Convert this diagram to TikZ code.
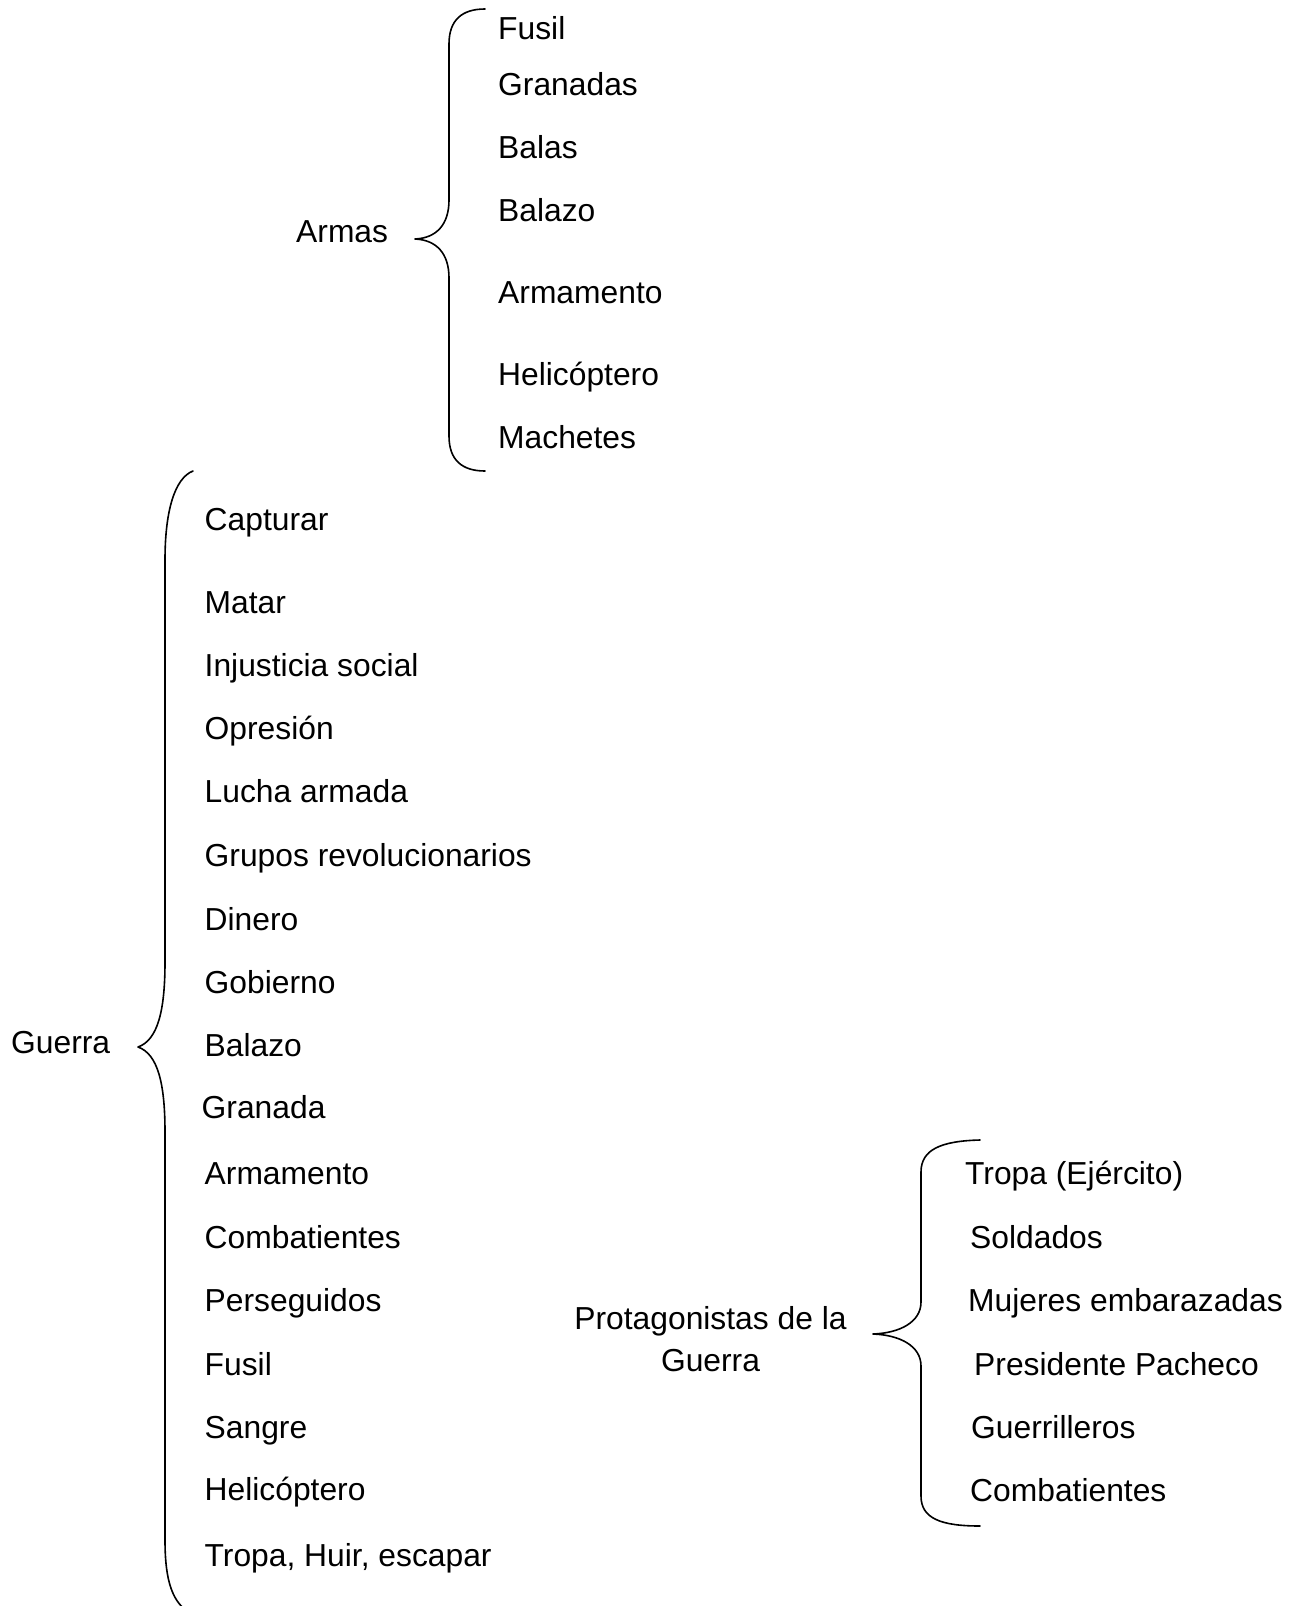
\documentclass[tikz,border=0pt]{standalone}
\usepackage{fontspec}
\setmainfont{Liberation Sans}
\begin{document}
\begin{tikzpicture}[x=1pt,y=-1pt,
  lbl/.style={anchor=base west,inner sep=0pt,font=\fontsize{31.8}{38}\selectfont},
  clbl/.style={anchor=base,inner sep=0pt,font=\fontsize{31.8}{38}\selectfont},
  brc/.style={line width=1.6pt,line join=round,line cap=round}]
\useasboundingbox (0,0) rectangle (1293,1606);
\clip (0,0) rectangle (1293,1606);

% ---------- Armas ----------
\node[lbl] (armas) at (296,242) {Armas};
\draw[brc] (485,9) .. controls (462,9) and (449,20) .. (449,44)
  -- (449,200) .. controls (449,224) and (437,238) .. (415,239)
  .. controls (437,240) and (449,254) .. (449,278)
  -- (449,436) .. controls (449,460) and (462,471) .. (485,471);
\node[lbl] (a1) at (498,39) {Fusil};
\node[lbl] (a2) at (498,95) {Granadas};
\node[lbl] (a3) at (498,158) {Balas};
\node[lbl] (a4) at (498,221) {Balazo};
\node[lbl] (a5) at (498,303) {Armamento};
\node[lbl] (a6) at (498,385.5) {Helicóptero};
\node[lbl] (a7) at (498,448) {Machetes};

% ---------- Guerra ----------
\node[lbl] (guerra) at (11,1053.5) {Guerra};
\draw[brc] (193,471) .. controls (175,478) and (165,510) .. (165,560)
  -- (165,962) .. controls (165,1010) and (158,1040) .. (138,1047)
  .. controls (158,1054) and (165,1084) .. (165,1132)
  -- (165,1540) .. controls (165,1580) and (172,1604) .. (192,1614);
\node[lbl] (g1) at (204.5,530) {Capturar};
\node[lbl] (g2) at (204.5,613) {Matar};
\node[lbl] (g3) at (204.5,676.5) {Injusticia social};
\node[lbl] (g4) at (204.5,739) {Opresión};
\node[lbl] (g5) at (204.5,802.5) {Lucha armada};
\node[lbl] (g6) at (204.5,866.5) {Grupos revolucionarios};
\node[lbl] (g7) at (204.5,930) {Dinero};
\node[lbl] (g8) at (204.5,993.5) {Gobierno};
\node[lbl] (g9) at (204.5,1056.5) {Balazo};
\node[lbl] (g10) at (201.5,1118.5) {Granada};
\node[lbl] (g11) at (204.5,1184) {Armamento};
\node[lbl] (g12) at (204.5,1248) {Combatientes};
\node[lbl] (g13) at (204.5,1311) {Perseguidos};
\node[lbl] (g14) at (204.5,1375) {Fusil};
\node[lbl] (g15) at (204.5,1438) {Sangre};
\node[lbl] (g16) at (204.5,1500.5) {Helicóptero};
\node[lbl] (g17) at (204.5,1566) {Tropa, Huir, escapar};

% ---------- Protagonistas ----------
\node[clbl] (p1) at (710.5,1329) {Protagonistas de la};
\node[clbl] (p2) at (710.5,1371) {Guerra};
\draw[brc] (980,1140) .. controls (940,1141) and (921,1150) .. (921,1172)
  -- (921,1302) .. controls (921,1322) and (900,1333) .. (873,1334)
  .. controls (900,1335) and (921,1346) .. (921,1366)
  -- (921,1496) .. controls (921,1518) and (940,1526) .. (980,1526);
\node[lbl] (r1) at (965,1184.5) {Tropa (Ejército)};
\node[lbl] (r2) at (970,1248.5) {Soldados};
\node[lbl] (r3) at (968,1311.5) {Mujeres embarazadas};
\node[lbl] (r4) at (974,1375.5) {Presidente Pacheco};
\node[lbl] (r5) at (971,1438.5) {Guerrilleros};
\node[lbl] (r6) at (970,1501) {Combatientes};
\end{tikzpicture}
\end{document}
